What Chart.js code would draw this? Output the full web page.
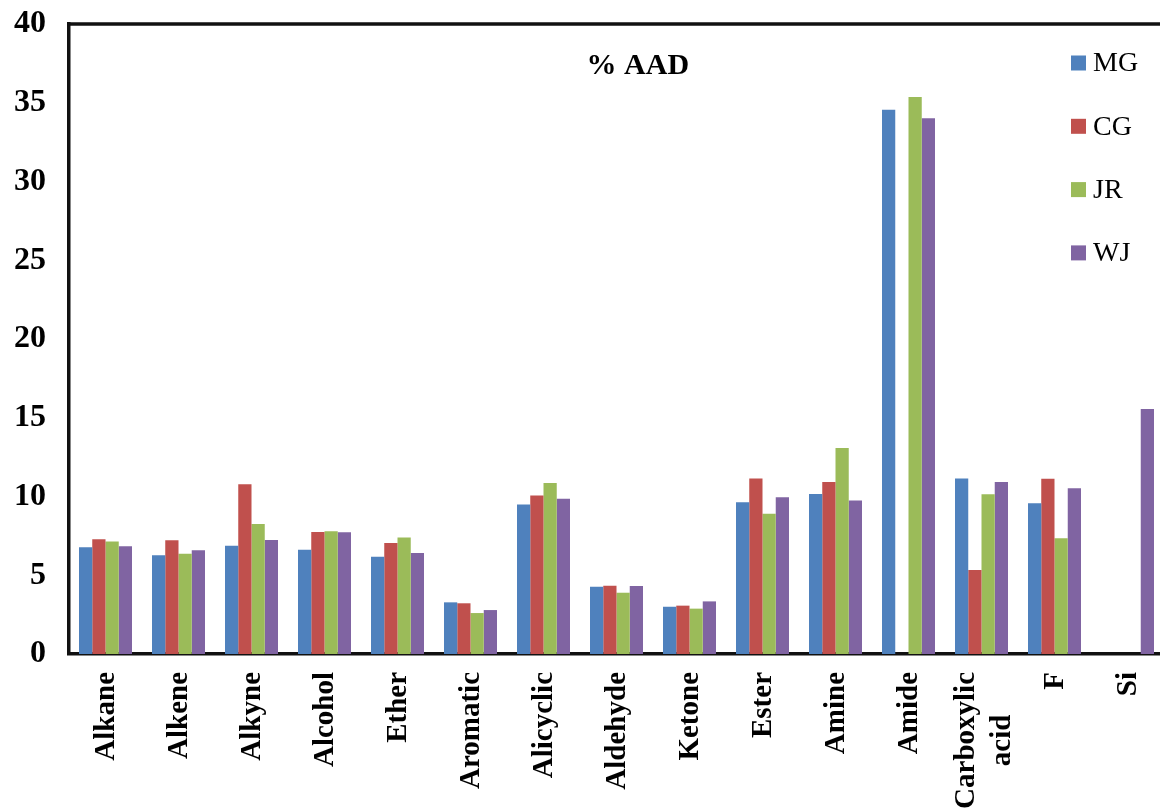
<!DOCTYPE html>
<html>
<head>
<meta charset="utf-8">
<title>% AAD</title>
<script src="https://cdn.jsdelivr.net/npm/chart.js@4/dist/chart.umd.min.js"></script>
<style>
  html, body { margin: 0; padding: 0; background: #fff; overflow: hidden; }
  #wrap { width: 1200px; height: 810px; }
</style>
</head>
<body>
<div id="wrap"><canvas id="c" width="1200" height="810"></canvas></div>
<script>
// Functional groups on the category axis (multi-line labels as arrays)
const groups = ['Alkane', 'Alkene', 'Alkyne', 'Alcohol', 'Ether', 'Aromatic', 'Alicyclic',
  'Aldehyde', 'Ketone', 'Ester', 'Amine', 'Amide', ['Carboxylic', 'acid'], 'F', 'Si'];

// % AAD per method
const mgValues = [6.77, 6.27, 6.88, 6.62, 6.18, 3.28, 9.50, 4.27, 3.00, 9.63, 10.16, 34.56, 11.15, 9.57, null];
const cgValues = [7.28, 7.22, 10.77, 7.75, 7.05, 3.22, 10.07, 4.34, 3.07, 11.15, 10.92, null, 5.33, 11.13, null];
const jrValues = [7.15, 6.37, 8.25, 7.79, 7.39, 2.60, 10.86, 3.89, 2.88, 8.91, 13.08, 35.37, 10.14, 7.35, null];
const wjValues = [6.84, 6.58, 7.24, 7.73, 6.41, 2.79, 9.86, 4.32, 3.34, 9.95, 9.74, 34.01, 10.92, 10.52, 15.56];

const seriesNames = ['MG', 'CG', 'JR', 'WJ'];
const seriesColors = ['#4F81BD', '#C0504D', '#9BBB59', '#8064A2'];

// Y axis range
const yMin = 0, yMax = 40, yStep = 5;

const chartTitle = '% AAD';

const SERIF = "'Liberation Serif', 'Times New Roman', serif";

// Frame (top edge), title, legend and rotated category labels
const decorations = {
  id: 'decorations',
  afterDraw(chart) {
    const ctx = chart.ctx;
    const a = chart.chartArea;
    const xs = chart.scales.x;
    ctx.save();

    // top edge of the plot frame
    ctx.strokeStyle = '#111';
    ctx.lineWidth = 3.5;
    ctx.beginPath();
    ctx.moveTo(a.left - 1.5, a.top);
    ctx.lineTo(chart.width, a.top);
    ctx.stroke();

    // title inside the plot
    ctx.fillStyle = '#000';
    ctx.font = 'bold 30px ' + SERIF;
    ctx.textAlign = 'center';
    ctx.textBaseline = 'middle';
    ctx.fillText(chartTitle, a.left + (a.right - a.left) * 0.5195, a.top + 42);

    // legend
    ctx.font = '28px ' + SERIF;
    ctx.textAlign = 'left';
    chart.data.datasets.forEach((ds, i) => {
      const cy = a.top + 39 + i * 63.3;
      ctx.fillStyle = ds.backgroundColor;
      ctx.fillRect(1071, cy - 7.5, 15, 15);
      ctx.fillStyle = '#000';
      ctx.fillText(ds.label, 1093, cy + 1);
    });

    // category labels, rotated, lines centred on each other
    ctx.font = 'bold 29px ' + SERIF;
    ctx.fillStyle = '#000';
    ctx.textAlign = 'right';
    ctx.textBaseline = 'middle';
    const topY = a.bottom + 18;
    chart.data.labels.forEach((lab, i) => {
      const lines = Array.isArray(lab) ? lab : [lab];
      const widths = lines.map(t => ctx.measureText(t).width);
      const maxW = Math.max(...widths);
      const cx = xs.getPixelForValue(i);
      const lh = 36;
      lines.forEach((t, j) => {
        const x = cx + (j - (lines.length - 1) / 2) * lh + (lines.length > 1 ? 3 : 1);
        const y = topY + (maxW - widths[j]) / 2;
        ctx.save();
        ctx.translate(x, y);
        ctx.rotate(-Math.PI / 2);
        ctx.fillText(t, 0, 0);
        ctx.restore();
      });
    });

    ctx.restore();
  }
};

const valueSets = [mgValues, cgValues, jrValues, wjValues];

new Chart(document.getElementById('c'), {
  type: 'bar',
  data: {
    labels: groups,
    datasets: seriesNames.map((name, i) => ({
      label: name,
      data: valueSets[i],
      backgroundColor: seriesColors[i],
      borderWidth: 0,
      categoryPercentage: 0.726,
      barPercentage: 1.0
    }))
  },
  options: {
    responsive: false,
    animation: false,
    devicePixelRatio: 1,
    layout: { padding: { top: 24, right: 36, left: 0, bottom: 0 } },
    plugins: {
      legend: { display: false },
      title: { display: false },
      tooltip: { enabled: false }
    },
    scales: {
      x: {
        grid: { display: false, drawTicks: false },
        border: { display: true, color: '#111', width: 3.5 },
        ticks: { display: false },
        afterFit(scale) { scale.height = 156; scale.paddingLeft = 0; scale.paddingRight = 0; }
      },
      y: {
        min: yMin,
        max: yMax,
        grid: { display: false, drawTicks: false },
        border: { display: true, color: '#111', width: 3.5 },
        ticks: {
          stepSize: yStep,
          padding: 23,
          color: '#000',
          font: { family: SERIF, size: 32, weight: 'bold' }
        },
        afterFit(scale) { scale.width = 69; scale.paddingTop = 0; scale.paddingBottom = 0; }
      }
    }
  },
  plugins: [decorations]
});
</script>
</body>
</html>
